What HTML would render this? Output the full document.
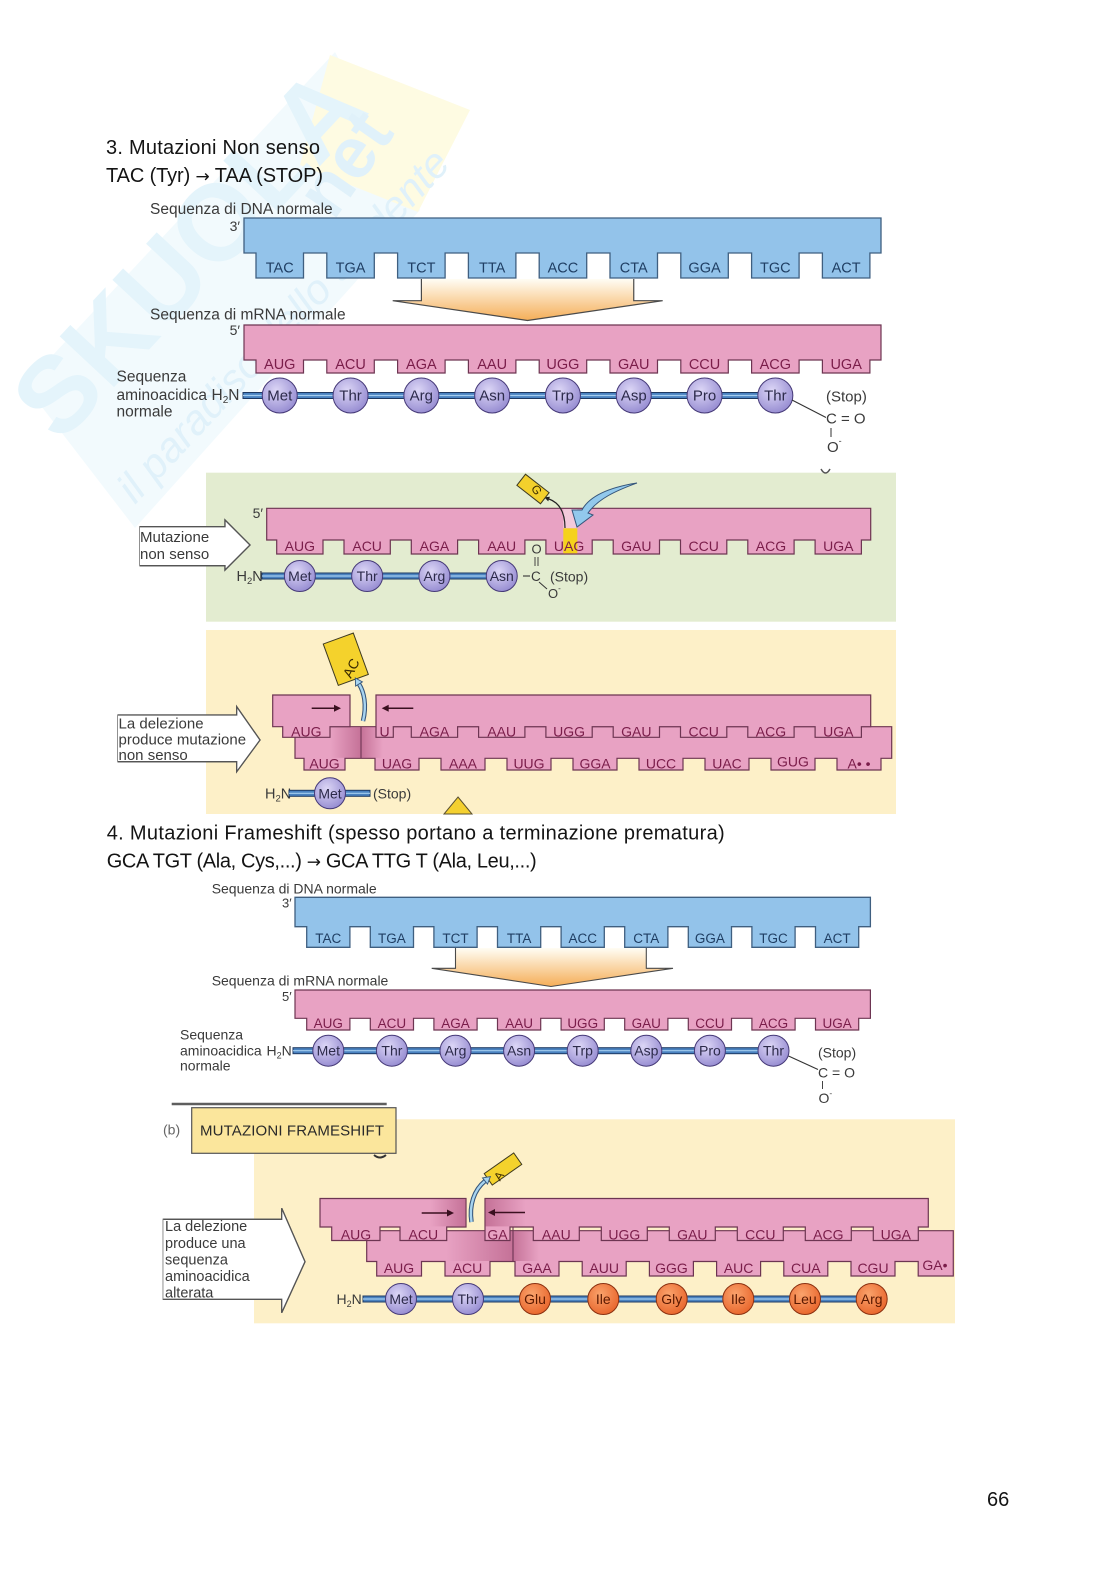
<!DOCTYPE html>
<html><head><meta charset="utf-8">
<style>
html,body{margin:0;padding:0;background:#fff;}
svg{display:block;}
text{font-family:"Liberation Sans",Arial,sans-serif;}
.h{font-size:20px;fill:#141414;}
.ar{font-family:"DejaVu Sans",sans-serif;font-size:17px;}
.lb{fill:#3a3a3a;}
.dn{font-size:14.5px;fill:#1f3e63;text-anchor:middle;}
.rn{font-size:14.5px;fill:#7a1d4a;text-anchor:middle;}
.rn2{font-size:14px;fill:#7a1d4a;text-anchor:middle;}
.rn4{font-size:13.5px;fill:#7a1d4a;text-anchor:middle;}
.dn4{font-size:13.5px;fill:#1f3e63;text-anchor:middle;}
.aa{font-size:15px;fill:#2c2a4a;text-anchor:middle;}
.aa2{font-size:14px;fill:#2c2a4a;text-anchor:middle;}
.ao{font-size:14px;fill:#5a1800;text-anchor:middle;}
.dna{fill:#93c3ea;stroke:#3f5f80;stroke-width:1.3;}
.rna{fill:#e8a2c3;stroke:#6d3552;stroke-width:1.2;}
.bar{fill:#4a82c0;stroke:#1e3a63;stroke-width:1;}
.bl{stroke:#a4cdef;stroke-width:1.2;}
.cl{fill:url(#lav);stroke:#463a78;stroke-width:1;}
.co{fill:url(#org);stroke:#8a3010;stroke-width:1;}
.arw{fill:#fff;stroke:#555;stroke-width:1.3;}
</style></head><body>
<svg width="1116" height="1579" viewBox="0 0 1116 1579" xmlns="http://www.w3.org/2000/svg">
<defs>
<linearGradient id="fun" x1="0" y1="0" x2="0" y2="1"><stop offset="0" stop-color="#fffdf4"/><stop offset="1" stop-color="#f5ae58"/></linearGradient>
<radialGradient id="lav" cx="0.4" cy="0.35" r="0.7"><stop offset="0" stop-color="#dcd6f6"/><stop offset="1" stop-color="#948ad0"/></radialGradient>
<radialGradient id="org" cx="0.4" cy="0.35" r="0.7"><stop offset="0" stop-color="#faa36c"/><stop offset="1" stop-color="#e8642a"/></radialGradient>
<linearGradient id="shR" x1="0" y1="0" x2="1" y2="0"><stop offset="0" stop-color="#a84a74" stop-opacity="0"/><stop offset="1" stop-color="#a84a74" stop-opacity="0.55"/></linearGradient>
<linearGradient id="shL" x1="0" y1="0" x2="1" y2="0"><stop offset="0" stop-color="#a84a74" stop-opacity="0.55"/><stop offset="1" stop-color="#a84a74" stop-opacity="0"/></linearGradient>
</defs>

<!-- watermark -->
<polygon points="25,385 335,52 420,210 135,528" fill="#f2fafd"/>
<polygon points="330,55 470,110 418,212 300,165" fill="#fefbe2"/>
<text transform="translate(60,445) rotate(-47)" font-size="108" font-weight="bold" fill="#e4f4fb">SKUOLA</text>
<text transform="translate(322,238) rotate(-55)" font-size="72" font-weight="bold" fill="#e0f1fa">.net</text>
<text transform="translate(135,505) rotate(-47)" font-size="42" font-style="italic" font-family="Liberation Serif" fill="#e0f1fa">il paradiso dello studente</text>

<!-- SECTION 3 heading -->
<text class="h" x="106" y="154" textLength="214">3. Mutazioni Non senso</text>
<text class="h" x="106" y="182" textLength="217">TAC (Tyr) <tspan class="ar">→</tspan> TAA (STOP)</text>

<!-- Section 1 diagram -->
<text class="lb" x="150" y="214" font-size="15.5">Sequenza di DNA normale</text>
<text class="lb" x="240" y="231" font-size="14" text-anchor="end">3′</text>
<path class="dna" d="M244,218 H881 V253 H869.9 V278 H822.4 V253 H799.1 V278 H751.6 V253 H728.3 V278 H680.8 V253 H657.5 V278 H610 V253 H586.7 V278 H539.2 V253 H515.9 V278 H468.4 V253 H445.1 V278 H397.6 V253 H374.3 V278 H326.8 V253 H303.5 V278 H256 V253 H244 Z"/>
<text class="dn" y="272.5"><tspan x="279.75">TAC</tspan><tspan x="350.55">TGA</tspan><tspan x="421.35">TCT</tspan><tspan x="492.15">TTA</tspan><tspan x="562.95">ACC</tspan><tspan x="633.75">CTA</tspan><tspan x="704.55">GGA</tspan><tspan x="775.35">TGC</tspan><tspan x="846.15">ACT</tspan></text>

<polygon points="421.4,279 633.75,279 633.75,300.7 662.7,300.7 527.5,320.5 392.7,300.7 421.4,300.7" fill="url(#fun)"/>
<polyline points="421.4,279 421.4,300.7 392.7,300.7 527.5,320.5 662.7,300.7 633.75,300.7 633.75,279" fill="none" stroke="#4a4a4a" stroke-width="1.2"/>

<text class="lb" x="150" y="319.5" font-size="15.5">Sequenza di mRNA normale</text>
<text class="lb" x="240" y="335" font-size="14" text-anchor="end">5′</text>
<path class="rna" d="M244,325 H881 V360 H869.9 V373 H822.4 V360 H799.1 V373 H751.6 V360 H728.3 V373 H680.8 V360 H657.5 V373 H610 V360 H586.7 V373 H539.2 V360 H515.9 V373 H468.4 V360 H445.1 V373 H397.6 V360 H374.3 V373 H326.8 V360 H303.5 V373 H256 V360 H244 Z"/>
<text class="rn" y="369"><tspan x="279.75">AUG</tspan><tspan x="350.55">ACU</tspan><tspan x="421.35">AGA</tspan><tspan x="492.15">AAU</tspan><tspan x="562.95">UGG</tspan><tspan x="633.75">GAU</tspan><tspan x="704.55">CCU</tspan><tspan x="775.35">ACG</tspan><tspan x="846.15">UGA</tspan></text>

<text class="lb" font-size="15.5"><tspan x="116.5" y="381.5">Sequenza</tspan><tspan x="116.5" y="400">aminoacidica</tspan><tspan x="116.5" y="416.5">normale</tspan></text>
<text class="lb" x="211.5" y="400" font-size="15.5">H<tspan font-size="10" dy="3">2</tspan><tspan dy="-3">N</tspan></text>
<rect class="bar" x="243" y="392.5" width="532" height="6"/>
<line class="bl" x1="243" y1="395.5" x2="775" y2="395.5"/>
<g>
<circle class="cl" cx="279.75" cy="395.5" r="17.5"/><circle class="cl" cx="350.55" cy="395.5" r="17.5"/><circle class="cl" cx="421.35" cy="395.5" r="17.5"/><circle class="cl" cx="492.15" cy="395.5" r="17.5"/><circle class="cl" cx="562.95" cy="395.5" r="17.5"/><circle class="cl" cx="633.75" cy="395.5" r="17.5"/><circle class="cl" cx="704.55" cy="395.5" r="17.5"/><circle class="cl" cx="775.35" cy="395.5" r="17.5"/>
</g>
<text class="aa" y="400.7"><tspan x="279.75">Met</tspan><tspan x="350.55">Thr</tspan><tspan x="421.35">Arg</tspan><tspan x="492.15">Asn</tspan><tspan x="562.95">Trp</tspan><tspan x="633.75">Asp</tspan><tspan x="704.55">Pro</tspan><tspan x="775.35">Thr</tspan></text>
<line x1="792" y1="400" x2="826" y2="417.5" stroke="#333" stroke-width="1.1"/>
<text class="lb" x="826" y="401.5" font-size="15">(Stop)</text>
<text class="lb" x="826" y="423.5" font-size="15">C = O</text>
<line x1="831" y1="428" x2="831" y2="437" stroke="#444" stroke-width="1.1"/>
<text class="lb" x="827" y="452" font-size="15">O<tspan font-size="9" dy="-8">-</tspan></text>

<!-- Section 2: green -->
<rect x="206" y="472.7" width="690" height="149" fill="#e3ecd0"/>
<path d="M821,469 Q825.5,477 830,469" fill="none" stroke="#555" stroke-width="1.5"/>
<polygon class="arw" points="140,526.7 225,526.7 225,520 250,545 225,570 225,565.7 140,565.7" stroke="none"/>
<polyline class="arw" points="140,526.7 225,526.7 225,520 250,545 225,570 225,565.7 140,565.7" fill="none"/>
<text class="lb" font-size="15"><tspan x="140" y="542">Mutazione</tspan><tspan x="140" y="559">non senso</tspan></text>

<text class="lb" x="263" y="518" font-size="14" text-anchor="end">5′</text>
<path class="rna" d="M266.7,508.3 H870.7 V540 H861.4 V554 H815.1 V540 H794.1 V554 H747.8 V540 H726.8 V554 H680.5 V540 H659.5 V554 H613.2 V540 H592.2 V554 H545.9 V540 H524.9 V554 H478.6 V540 H457.6 V554 H411.3 V540 H390.3 V554 H344 V540 H323 V554 H276.7 V540 H266.7 Z"/>
<rect x="563.3" y="509" width="14" height="19.3" fill="#f3c9da"/>
<rect x="563.3" y="528.3" width="14" height="25" fill="#f5d21c"/>
<text class="rn2" y="551"><tspan x="299.85">AUG</tspan><tspan x="367.15">ACU</tspan><tspan x="434.45">AGA</tspan><tspan x="501.75">AAU</tspan><tspan x="569.05">UAG</tspan><tspan x="636.35">GAU</tspan><tspan x="703.65">CCU</tspan><tspan x="770.95">ACG</tspan><tspan x="838.25">UGA</tspan></text>

<path d="M637,483 C612,487 590,495 582,510 L572,510 L577,527 L593,515 L588,513 C598,499 615,491 637,483 Z" fill="#92c9ec" stroke="#35557a" stroke-width="1"/>
<path d="M565,528 C565,513 560,503 549,499" fill="none" stroke="#222" stroke-width="1.2"/>
<polygon points="544.3,497.3 549.9,496.7 548.2,501.4" fill="#222"/>
<g transform="translate(533,489) rotate(38)">
<rect x="-15" y="-7" width="30" height="14" fill="#f3d02c" stroke="#3e3a20" stroke-width="1"/>
</g>
<text x="537" y="493" font-size="12" fill="#3a2a00" text-anchor="middle" transform="rotate(60 536 489)">G</text>

<text class="lb" x="236.5" y="581" font-size="14.5">H<tspan font-size="9.5" dy="3">2</tspan><tspan dy="-3">N</tspan></text>
<rect class="bar" x="262" y="573" width="240" height="6"/>
<line class="bl" x1="262" y1="576" x2="502" y2="576"/>
<circle class="cl" cx="299.85" cy="576" r="15.5"/><circle class="cl" cx="367.15" cy="576" r="15.5"/><circle class="cl" cx="434.45" cy="576" r="15.5"/><circle class="cl" cx="501.75" cy="576" r="15.5"/>
<text class="aa2" y="581"><tspan x="299.85">Met</tspan><tspan x="367.15">Thr</tspan><tspan x="434.45">Arg</tspan><tspan x="501.75">Asn</tspan></text>
<line x1="523" y1="576" x2="530" y2="576" stroke="#333" stroke-width="1.1"/>
<text class="lb" x="531" y="581" font-size="13.5">C</text>
<text class="lb" x="531.5" y="553.5" font-size="13">O</text>
<line x1="535" y1="557" x2="535" y2="566" stroke="#333" stroke-width="0.9"/>
<line x1="538" y1="557" x2="538" y2="566" stroke="#333" stroke-width="0.9"/>
<line x1="539" y1="582" x2="547" y2="589" stroke="#333" stroke-width="1"/>
<text class="lb" x="548" y="598" font-size="13">O<tspan font-size="8" dy="-7">-</tspan></text>
<text class="lb" x="550" y="581.5" font-size="14">(Stop)</text>

<!-- Section 3: yellow deletion -->
<rect x="206" y="630" width="690" height="184" fill="#fdf0c8"/>
<polygon class="arw" points="118,715 236.7,715 236.7,706.7 260,740 236.7,771.7 236.7,761.7 118,761.7" stroke="none"/>
<polyline class="arw" points="118,715 236.7,715 236.7,706.7 260,740 236.7,771.7 236.7,761.7 118,761.7" fill="none"/>
<text class="lb" font-size="15"><tspan x="118.5" y="728.5">La delezione</tspan><tspan x="118.5" y="744.5">produce mutazione</tspan><tspan x="118.5" y="760">non senso</tspan></text>

<path class="rna" d="M295,726.7 H891.7 V758.3 H881 V770 H837 V758.3 H815 V770 H771 V758.3 H749 V770 H705 V758.3 H683 V770 H639 V758.3 H617 V770 H573 V758.3 H551 V770 H507 V758.3 H485 V770 H441 V758.3 H419 V770 H375 V758.3 H345 V770 H304 V758.3 H295 Z"/>
<rect x="330" y="727.3" width="31" height="30.5" fill="url(#shR)"/>
<rect x="361" y="727.3" width="22" height="30.5" fill="url(#shL)"/>
<line x1="361" y1="726.7" x2="361" y2="758.3" stroke="#6d3552" stroke-width="1.1"/>
<path class="rna" d="M272.7,695 H350 V726.7 H330 V737.3 H282.7 V726.7 H272.7 Z"/>
<path class="rna" d="M376,695 H870.7 V726.7 H861.4 V737.3 H815.1 V726.7 H794.1 V737.3 H747.8 V726.7 H726.8 V737.3 H680.5 V726.7 H659.5 V737.3 H613.2 V726.7 H592.2 V737.3 H545.9 V726.7 H524.9 V737.3 H478.6 V726.7 H457.6 V737.3 H411.3 V726.7 H393.3 V737.3 H376 Z"/>
<text class="rn2" y="736.7"><tspan x="306.35">AUG</tspan><tspan x="384.6">U</tspan><tspan x="434.45">AGA</tspan><tspan x="501.75">AAU</tspan><tspan x="569.05">UGG</tspan><tspan x="636.35">GAU</tspan><tspan x="703.65">CCU</tspan><tspan x="770.95">ACG</tspan><tspan x="838.25">UGA</tspan></text>
<text class="rn2" y="768.3"><tspan x="324.5">AUG</tspan><tspan x="397">UAG</tspan><tspan x="463">AAA</tspan><tspan x="529">UUG</tspan><tspan x="595">GGA</tspan><tspan x="661">UCC</tspan><tspan x="727">UAC</tspan><tspan x="793" dy="-2">GUG</tspan><tspan x="859" dy="2">A• •</tspan></text>
<line x1="311.7" y1="708.3" x2="336" y2="708.3" stroke="#3a1020" stroke-width="1.5"/>
<polygon points="341,708.3 334,704.8 334,711.8" fill="#3a1020"/>
<line x1="387" y1="708.3" x2="413.3" y2="708.3" stroke="#3a1020" stroke-width="1.5"/>
<polygon points="381.7,708.3 388.7,704.8 388.7,711.8" fill="#3a1020"/>
<g transform="translate(345.8,659.2) rotate(-20)">
<rect x="-16" y="-22" width="32" height="44" fill="#f4d22c" stroke="#3e3a20" stroke-width="1"/>
</g>
<text x="351" y="673" font-size="14" fill="#3a2a00" text-anchor="middle" transform="rotate(-62 351 668)">AC</text>
<path d="M363,721 C367,705 364,692 359,684" fill="none" stroke="#35557a" stroke-width="4.5"/>
<path d="M363,721 C367,705 364,692 359,684" fill="none" stroke="#a7d4f0" stroke-width="2.4"/>
<polygon points="355.3,678 362.4,681.9 355.6,686.1" fill="#a7d4f0" stroke="#35557a" stroke-width="0.9"/>

<text class="lb" x="265" y="798.3" font-size="14.5">H<tspan font-size="9.5" dy="3">2</tspan><tspan dy="-3">N</tspan></text>
<rect class="bar" x="289" y="790.3" width="81" height="6"/>
<line class="bl" x1="289" y1="793.3" x2="370" y2="793.3"/>
<circle class="cl" cx="330" cy="793.3" r="15.5"/>
<text class="aa2" x="330" y="798.3">Met</text>
<text class="lb" x="373" y="798.5" font-size="14">(Stop)</text>
<polygon points="458,797 472,814 444,814" fill="#f4d030" stroke="#5a5030" stroke-width="1"/>

<!-- SECTION 4 heading -->
<text class="h" x="106.7" y="839.3" textLength="618">4. Mutazioni Frameshift (spesso portano a terminazione prematura)</text>
<text class="h" x="106.7" y="867.3" textLength="430">GCA TGT (Ala, Cys,...) <tspan class="ar">→</tspan> GCA TTG T (Ala, Leu,...)</text>

<text class="lb" x="211.7" y="893.3" font-size="14">Sequenza di DNA normale</text>
<text class="lb" x="291.7" y="907.5" font-size="13" text-anchor="end">3′</text>
<path class="dna" d="M295,897.3 H870.4 V926.7 H858.7 V947.3 H815.5 V926.7 H795.1 V947.3 H751.9 V926.7 H731.5 V947.3 H688.3 V926.7 H667.9 V947.3 H624.7 V926.7 H604.3 V947.3 H561.1 V926.7 H540.7 V947.3 H497.5 V926.7 H477.1 V947.3 H433.9 V926.7 H413.5 V947.3 H370.3 V926.7 H349.9 V947.3 H306.7 V926.7 H295 Z"/>
<text class="dn4" y="943"><tspan x="328.3">TAC</tspan><tspan x="391.9">TGA</tspan><tspan x="455.5">TCT</tspan><tspan x="519.1">TTA</tspan><tspan x="582.7">ACC</tspan><tspan x="646.3">CTA</tspan><tspan x="709.9">GGA</tspan><tspan x="773.5">TGC</tspan><tspan x="837.1">ACT</tspan></text>
<polygon points="455.5,948 646.3,948 646.3,968.3 673,968.3 551,986.5 431.7,968.3 455.5,968.3" fill="url(#fun)"/>
<polyline points="455.5,948 455.5,968.3 431.7,968.3 551,986.5 673,968.3 646.3,968.3 646.3,948" fill="none" stroke="#4a4a4a" stroke-width="1.1"/>

<text class="lb" x="211.7" y="985.5" font-size="14">Sequenza di mRNA normale</text>
<text class="lb" x="291.7" y="1001" font-size="13" text-anchor="end">5′</text>
<path class="rna" d="M295,990 H870.4 V1018.3 H858.7 V1030 H815.5 V1018.3 H795.1 V1030 H751.9 V1018.3 H731.5 V1030 H688.3 V1018.3 H667.9 V1030 H624.7 V1018.3 H604.3 V1030 H561.1 V1018.3 H540.7 V1030 H497.5 V1018.3 H477.1 V1030 H433.9 V1018.3 H413.5 V1030 H370.3 V1018.3 H349.9 V1030 H306.7 V1018.3 H295 Z"/>
<text class="rn4" y="1028"><tspan x="328.3">AUG</tspan><tspan x="391.9">ACU</tspan><tspan x="455.5">AGA</tspan><tspan x="519.1">AAU</tspan><tspan x="582.7">UGG</tspan><tspan x="646.3">GAU</tspan><tspan x="709.9">CCU</tspan><tspan x="773.5">ACG</tspan><tspan x="837.1">UGA</tspan></text>

<text class="lb" font-size="14"><tspan x="180" y="1039.5">Sequenza</tspan><tspan x="180" y="1055.5">aminoacidica</tspan><tspan x="180" y="1070.5">normale</tspan></text>
<text class="lb" x="266.5" y="1055.5" font-size="14">H<tspan font-size="9" dy="3">2</tspan><tspan dy="-3">N</tspan></text>
<rect class="bar" x="293" y="1047.7" width="480" height="6"/>
<line class="bl" x1="293" y1="1050.7" x2="773" y2="1050.7"/>
<circle class="cl" cx="328.3" cy="1050.7" r="15.5"/><circle class="cl" cx="391.9" cy="1050.7" r="15.5"/><circle class="cl" cx="455.5" cy="1050.7" r="15.5"/><circle class="cl" cx="519.1" cy="1050.7" r="15.5"/><circle class="cl" cx="582.7" cy="1050.7" r="15.5"/><circle class="cl" cx="646.3" cy="1050.7" r="15.5"/><circle class="cl" cx="709.9" cy="1050.7" r="15.5"/><circle class="cl" cx="773.5" cy="1050.7" r="15.5"/>
<text class="aa2" y="1055.5"><tspan x="328.3">Met</tspan><tspan x="391.9">Thr</tspan><tspan x="455.5">Arg</tspan><tspan x="519.1">Asn</tspan><tspan x="582.7">Trp</tspan><tspan x="646.3">Asp</tspan><tspan x="709.9">Pro</tspan><tspan x="773.5">Thr</tspan></text>
<line x1="788.5" y1="1056" x2="818" y2="1069.5" stroke="#333" stroke-width="1.1"/>
<text class="lb" x="818" y="1057.5" font-size="14">(Stop)</text>
<text class="lb" x="818" y="1077.5" font-size="14">C = O</text>
<line x1="822.5" y1="1081" x2="822.5" y2="1089" stroke="#444" stroke-width="1"/>
<text class="lb" x="818.5" y="1103" font-size="14">O<tspan font-size="8.5" dy="-7">-</tspan></text>

<!-- frameshift panel -->
<rect x="254" y="1119.3" width="701" height="204" fill="#fdf0c8"/>
<line x1="171.7" y1="1104" x2="386.7" y2="1104" stroke="#5e5e5e" stroke-width="2.6"/>
<rect x="191.7" y="1107.7" width="204.3" height="45.6" fill="#fbe69c" stroke="#555" stroke-width="1.2"/>
<text x="163" y="1134.5" font-size="14" font-family="Liberation Serif" fill="#666">(b)</text>
<text x="200" y="1135.5" font-size="15" fill="#2a2a2a" textLength="184">MUTAZIONI FRAMESHIFT</text>
<path d="M374,1155 Q380,1160 386,1155" fill="none" stroke="#333" stroke-width="2"/>

<polygon class="arw" points="163.3,1219.3 281.7,1219.3 281.7,1208.3 305,1261.7 281.7,1312.7 281.7,1299.3 163.3,1299.3" stroke="none"/>
<polyline class="arw" points="163.3,1219.3 281.7,1219.3 281.7,1208.3 305,1261.7 281.7,1312.7 281.7,1299.3 163.3,1299.3" fill="none"/>
<text class="lb" font-size="14.5"><tspan x="165" y="1231">La delezione</tspan><tspan x="165" y="1248">produce una</tspan><tspan x="165" y="1264.5">sequenza</tspan><tspan x="165" y="1281">aminoacidica</tspan><tspan x="165" y="1297.5">alterata</tspan></text>

<path class="rna" d="M366.7,1230.7 H953.3 V1276 H918.2 V1261.5 H895 V1276 H851 V1261.5 H827.8 V1276 H783.8 V1261.5 H760.6 V1276 H716.6 V1261.5 H693.4 V1276 H649.4 V1261.5 H626.2 V1276 H582.2 V1261.5 H559 V1276 H515 V1261.5 H490 V1276 H445 V1261.5 H421.5 V1276 H376.7 V1261.5 H366.7 Z"/>
<rect x="446" y="1231.3" width="67" height="29.7" fill="url(#shR)"/>
<rect x="513" y="1231.3" width="26" height="29.7" fill="url(#shL)"/>
<line x1="513" y1="1227" x2="513" y2="1261.5" stroke="#6d3552" stroke-width="1.1"/>
<path class="rna" d="M320,1198.5 H466 V1227 H446.7 V1240.5 H400 V1227 H380 V1240.5 H331.7 V1227 H320 Z"/>
<rect x="430" y="1199.2" width="35.4" height="27.2" fill="url(#shR)"/>
<path class="rna" d="M485,1198.5 H928.3 V1227 H918.3 V1240.5 H873.3 V1227 H851.3 V1240.5 H805.3 V1227 H783.3 V1240.5 H737.3 V1227 H715.3 V1240.5 H669.3 V1227 H647.3 V1240.5 H601.3 V1227 H579.3 V1240.5 H533.3 V1227 H510 V1240.5 H485 Z"/>
<rect x="485.6" y="1199.2" width="40" height="27.2" fill="url(#shL)"/>
<text class="rn2" y="1239.3"><tspan x="356">AUG</tspan><tspan x="423.3">ACU</tspan><tspan x="497.5">GA</tspan><tspan x="556.3">AAU</tspan><tspan x="624.3">UGG</tspan><tspan x="692.3">GAU</tspan><tspan x="760.3">CCU</tspan><tspan x="828.3">ACG</tspan><tspan x="895.8">UGA</tspan></text>
<text class="rn2" y="1273"><tspan x="399">AUG</tspan><tspan x="467.5">ACU</tspan><tspan x="537">GAA</tspan><tspan x="604.2">AUU</tspan><tspan x="671.4">GGG</tspan><tspan x="738.6">AUC</tspan><tspan x="805.8">CUA</tspan><tspan x="873">CGU</tspan><tspan x="935" dy="-3">GA•</tspan></text>
<line x1="421.7" y1="1213" x2="448" y2="1213" stroke="#3a1020" stroke-width="1.5"/>
<polygon points="454,1213 447,1209.5 447,1216.5" fill="#3a1020"/>
<line x1="494" y1="1212.5" x2="525" y2="1212.5" stroke="#3a1020" stroke-width="1.5"/>
<polygon points="488,1212.5 495,1209 495,1216" fill="#3a1020"/>
<g transform="translate(503,1169) rotate(-35)">
<rect x="-18" y="-7" width="36" height="14" fill="#f4d22c" stroke="#3e3a20" stroke-width="1"/>
</g>
<text x="499" y="1180" font-size="12" fill="#3a2a00" text-anchor="middle" transform="rotate(-55 499 1176)">A</text>
<path d="M471.5,1222 C469,1205 474,1190 485,1181" fill="none" stroke="#35557a" stroke-width="4.5"/>
<path d="M471.5,1222 C469,1205 474,1190 485,1181" fill="none" stroke="#a7d4f0" stroke-width="2.4"/>
<polygon points="490.4,1176.6 487.5,1184.1 482.5,1177.9" fill="#a7d4f0" stroke="#35557a" stroke-width="0.9"/>

<text class="lb" x="336.5" y="1304" font-size="14">H<tspan font-size="9" dy="3">2</tspan><tspan dy="-3">N</tspan></text>
<rect class="bar" x="363" y="1296" width="509" height="6"/>
<line class="bl" x1="363" y1="1299" x2="872" y2="1299"/>
<circle class="cl" cx="401" cy="1299" r="15.5"/><circle class="cl" cx="468" cy="1299" r="15.5"/>
<circle class="co" cx="535" cy="1299" r="15.5"/><circle class="co" cx="603.3" cy="1299" r="15.5"/><circle class="co" cx="671.7" cy="1299" r="15.5"/><circle class="co" cx="738.3" cy="1299" r="15.5"/><circle class="co" cx="805" cy="1299" r="15.5"/><circle class="co" cx="871.7" cy="1299" r="15.5"/>
<text class="aa2" y="1304"><tspan x="401">Met</tspan><tspan x="468">Thr</tspan></text>
<text class="ao" y="1304"><tspan x="535">Glu</tspan><tspan x="603.3">Ile</tspan><tspan x="671.7">Gly</tspan><tspan x="738.3">Ile</tspan><tspan x="805">Leu</tspan><tspan x="871.7">Arg</tspan></text>

<text x="987" y="1506" font-size="20" fill="#141414">66</text>
</svg>
</body></html>
